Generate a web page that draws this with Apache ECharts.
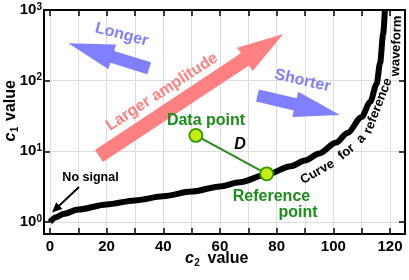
<!DOCTYPE html>
<html><head><meta charset="utf-8">
<script src="https://cdn.jsdelivr.net/npm/echarts@6/dist/echarts.min.js"></script>
<style>html,body{margin:0;padding:0;background:#fff}#c{width:409px;height:280px}</style>
</head><body><div id="c"></div>
<script>
// ---- data ----
const curveC2 = [0, 2, 5, 10, 20, 30, 40, 50, 60, 67, 76.5, 85, 90, 95, 101, 105, 110, 113, 115.3, 116.5, 117.6, 118.2];
const curveC1 = [1.0, 1.16, 1.31, 1.5, 1.77, 2.02, 2.31, 2.69, 3.19, 3.65, 4.7, 6.14, 7.42, 9.32, 13.3, 18.2, 30.6, 50, 90, 178, 457, 1000];
const dataPoint = [51.5, 16.8];
const referencePoint = [76.5, 4.8];
const xTickValues = [0, 10, 20, 30, 40, 50, 60, 70, 80, 90, 100, 110, 120];
const xLabelValues = [0, 20, 40, 60, 80, 100, 120];
const xRange = [-2.1, 125.3];
const yRange = [0.676, 1000];

const FONT = 'Liberation Sans, Arial, Helvetica, sans-serif';
const chart = echarts.init(document.getElementById('c'), null, {renderer: 'canvas'});

function arrowPts(tail, tip, shaftW, headW, headL) {
  const dx = tip[0] - tail[0], dy = tip[1] - tail[1];
  const L = Math.hypot(dx, dy), ux = dx / L, uy = dy / L, nx = -uy, ny = ux;
  const bx = tip[0] - ux * headL, by = tip[1] - uy * headL;
  const s = shaftW / 2, h = headW / 2;
  return [
    [tail[0] + nx * s, tail[1] + ny * s],
    [bx + nx * s, by + ny * s],
    [bx + nx * h, by + ny * h],
    [tip[0], tip[1]],
    [bx - nx * h, by - ny * h],
    [bx - nx * s, by - ny * s],
    [tail[0] - nx * s, tail[1] - ny * s]
  ];
}
function txt(x, y, text, size, color, rotDeg, extra) {
  return {
    type: 'text', x: x, y: y, rotation: (rotDeg || 0) * Math.PI / 180, z: 100,
    style: Object.assign({text: text, fontSize: size, fontWeight: 'bold', fontFamily: FONT,
      fill: color, align: 'center', verticalAlign: 'middle'}, extra || {})
  };
}

const axisLineStyle = {color: '#000', width: 2};
const tickStyle = {color: '#000', width: 1.5};

const option = {
  animation: false,
  backgroundColor: '#fff',
  grid: {left: 44, right: 4, top: 10, bottom: 46, containLabel: false, outerBoundsMode: 'none'},
  xAxis: [
    {type: 'value', min: xRange[0], max: xRange[1], position: 'bottom',
     axisLine: {show: true, onZero: false, lineStyle: axisLineStyle},
     axisTick: {show: true, inside: true, length: 6, customValues: xTickValues, lineStyle: tickStyle},
     axisLabel: {customValues: xLabelValues, margin: 5, color: '#000', fontSize: 15, fontWeight: 'bold', fontFamily: FONT},
     splitLine: {show: true, lineStyle: {color: '#dddddd', width: 1}}},
    {type: 'value', min: xRange[0], max: xRange[1], position: 'top',
     axisLine: {show: true, onZero: false, lineStyle: axisLineStyle},
     axisTick: {show: true, inside: true, length: 6, customValues: xTickValues, lineStyle: tickStyle},
     axisLabel: {show: false}, splitLine: {show: false}}
  ],
  yAxis: [
    {type: 'log', logBase: 10, min: yRange[0], max: yRange[1], position: 'left',
     axisLine: {show: true, onZero: false, lineStyle: axisLineStyle},
     axisTick: {show: true, inside: true, length: 6, lineStyle: tickStyle},
     axisLabel: {margin: 2, color: '#000', fontFamily: FONT,
       formatter: function (v) {
         const e = Math.log10(v);
         if (Math.abs(e - Math.round(e)) > 1e-6) return '';
         return '{b|10}{s|' + Math.round(e) + '}';
       },
       rich: {
         b: {fontSize: 15, fontWeight: 'bold', fontFamily: FONT, color: '#000', lineHeight: 16},
         s: {fontSize: 10, fontWeight: 'bold', fontFamily: FONT, color: '#000', verticalAlign: 'top', lineHeight: 10}
       }},
     splitLine: {show: true, lineStyle: {color: '#dddddd', width: 1}}},
    {type: 'log', logBase: 10, min: yRange[0], max: yRange[1], position: 'right',
     axisLine: {show: true, onZero: false, lineStyle: axisLineStyle},
     axisTick: {show: true, inside: true, length: 6, lineStyle: tickStyle},
     axisLabel: {show: false}, splitLine: {show: false}}
  ],
  series: [
    {type: 'line', name: 'reference curve', xAxisIndex: 0, yAxisIndex: 0,
     data: curveC2.map((x, i) => [x, curveC1[i]]),
     showSymbol: false, smooth: 0.3, smoothMonotone: 'x', clip: true,
     lineStyle: {color: '#000', width: 6}, z: 3},
    {type: 'line', name: 'D', xAxisIndex: 0, yAxisIndex: 0,
     data: [dataPoint, referencePoint],
     symbol: 'circle', symbolSize: 13, showSymbol: true,
     lineStyle: {color: '#2a8a1a', width: 2},
     itemStyle: {color: '#c4ee10', borderColor: '#2f9a00', borderWidth: 1.8}, z: 5}
  ]
};
chart.setOption(option);

const green = '#1a8c1a', blue = '#8080ff', red = '#ff8080';
chart.setOption({
  graphic: [
    {type: 'polygon', z: 50, shape: {points: arrowPts([149.2, 68.3], [68.3, 43.3], 12.5, 26, 46)}, style: {fill: blue}},
    {type: 'polygon', z: 50, shape: {points: arrowPts([257.5, 95.5], [340, 115], 12.5, 26, 46)}, style: {fill: blue}},
    {type: 'polygon', z: 50, shape: {points: arrowPts([99, 156], [283.3, 34], 14.5, 28, 46)}, style: {fill: red}},
    {type: 'polygon', z: 50, shape: {points: arrowPts([79, 187], [52, 212.5], 2, 9, 10)}, style: {fill: '#000'}},
    txt(121.7, 34.7, 'Longer', 16, blue, -15),
    txt(302.5, 80.8, 'Shorter', 16, blue, -13),
    txt(162, 92, 'Larger amplitude', 16, red, 33),
    txt(90.5, 177.5, 'No signal', 12.5, '#000', 0),
    txt(206, 121, 'Data point', 16, green, 0),
    txt(271.5, 196.5, 'Reference', 16, green, 0),
    txt(298, 213, 'point', 16, green, 0),
    txt(240, 145, 'D', 16, '#000', 0, {fontStyle: 'italic'}),
    txt(317.5, 172, 'Curve', 13, '#000', 30),
    txt(346.5, 152, 'for', 13, '#000', 40),
    txt(361, 139, 'a', 13, '#000', 50),
    txt(378, 106, 'reference', 13, '#000', 69),
    txt(396.5, 46, 'waveform', 13, '#000', 88),
    // x axis title
    txt(189.5, 259, 'c', 16, '#000', 0, {fontStyle: 'italic'}),
    txt(197, 263, '2', 10, '#000', 0),
    txt(228, 259, 'value', 16, '#000', 0),
    // y axis title (rotated, reads bottom to top)
    txt(11, 137, 'c', 16, '#000', 90, {fontStyle: 'italic'}),
    txt(15, 129.5, '1', 10, '#000', 90),
    txt(11, 100.5, 'value', 16, '#000', 90)
  ]
});
</script>
</body></html>
